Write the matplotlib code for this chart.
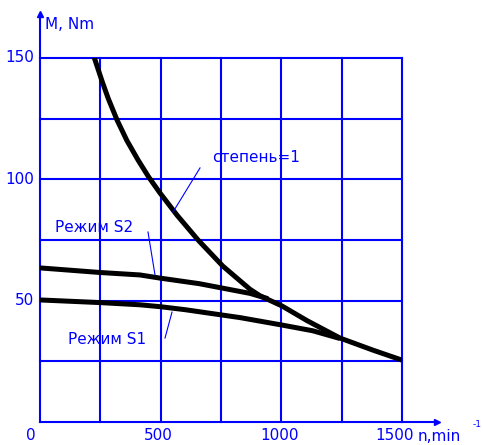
import matplotlib
matplotlib.use("Agg")
import matplotlib.pyplot as plt

# Data
n_power = [224, 257, 282, 319, 360, 406, 450, 497, 568, 655, 758, 870, 912, 1003, 1106, 1243, 1380, 1500]
M_power = [150.4, 140.5, 133.5, 124.5, 116, 108, 101, 94.4, 85.2, 75, 64.2, 54.7, 52, 47.8, 41.8, 34.6, 29.6, 25.5]
n_s2 = [0, 250, 414, 497, 660, 870, 945]
M_s2 = [63.5, 61.6, 60.6, 59.3, 57, 53, 50.8]
n_s1 = [0, 250, 414, 500, 600, 830, 1000, 1130, 1243]
M_s1 = [50.3, 49.2, 48.3, 47.5, 46.3, 43, 40, 37.6, 34.4]
x_ticks = [0, 500, 1000, 1500]
y_ticks = [50, 100, 150]
x_grid = [0, 250, 500, 750, 1000, 1250, 1500]
y_grid = [0, 25, 50, 75, 100, 125, 150]

BLUE = "#0000ff"
FONT = "DejaVu Sans"
W, H = 483, 445
fig = plt.figure(figsize=(W / 100, H / 100), dpi=100)
ax = fig.add_axes([40 / W, (H - 422) / H, 362 / W, 364 / H])
ax.set_xlim(0, 1500)
ax.set_ylim(0, 150)
ax.axis("off")

for g in x_grid:
    ax.plot([g, g], [0, 150], color=BLUE, lw=1.5, clip_on=False, zorder=1)
for g in y_grid:
    ax.plot([0, 1500], [g, g], color=BLUE, lw=1.5, clip_on=False, zorder=1)

# axis extensions with arrow dots
ax.plot([1500, 1645], [0, 0], color=BLUE, lw=1.5, clip_on=False)
ax.plot([1645], [0], marker=">", color=BLUE, ms=4, clip_on=False)
ax.plot([0, 0], [150, 168], color=BLUE, lw=1.5, clip_on=False)
ax.plot([0], [168], marker="^", color=BLUE, ms=4, clip_on=False)

# curves
kw = dict(color="black", lw=3.6, solid_capstyle="butt", solid_joinstyle="round", zorder=3)
ax.plot(n_power, M_power, **kw)
ax.plot(n_s2, M_s2, **kw)
ax.plot(n_s1, M_s1, **kw)

fs = 11
# tick labels
x_label_pos = [-37, 489, 994, 1471]
for v, p in zip(x_ticks, x_label_pos):
    ax.text(p, -5.6, str(v), color=BLUE, fontsize=fs, family=FONT,
            ha="center", va="center", clip_on=False)
for v in y_ticks:
    ax.text(-24, v, str(v), color=BLUE, fontsize=fs, family=FONT,
            ha="right", va="center", clip_on=False)

ax.text(1566, -6.0, "n,min", color=BLUE, fontsize=fs, family=FONT,
        ha="left", va="center", clip_on=False)
ax.text(1792, -1.2, "-1", color=BLUE, fontsize=6.5, family=FONT,
        ha="left", va="center", clip_on=False)
ax.text(20, 163.6, "M, Nm", color=BLUE, fontsize=fs, family=FONT,
        ha="left", va="center", clip_on=False)

# annotations
ax.text(713, 109.2, "степень=1", color=BLUE, fontsize=fs, family=FONT,
        ha="left", va="center")
ax.plot([663, 551], [104.7, 86.5], color=BLUE, lw=0.8, zorder=4)
ax.text(62, 80, "Режим S2", color=BLUE, fontsize=fs, family=FONT,
        ha="left", va="center")
ax.plot([447.5, 476.5], [78.3, 60.6], color=BLUE, lw=0.8, zorder=4)
ax.text(116, 33.8, "Режим S1", color=BLUE, fontsize=fs, family=FONT,
        ha="left", va="center")
ax.plot([518, 547], [34.6, 45.3], color=BLUE, lw=0.8, zorder=4)

fig.savefig("out.png", dpi=100, facecolor="white")
